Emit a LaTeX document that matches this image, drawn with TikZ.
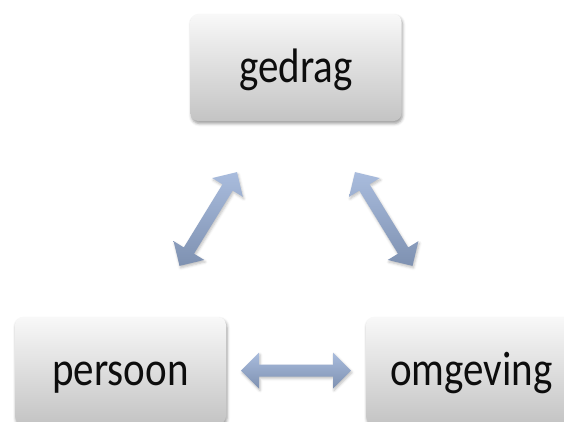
\documentclass[tikz,border=0pt]{standalone}
\usepackage{fontspec}
\setmainfont{Carlito}
\usetikzlibrary{calc,shadows.blur}

\definecolor{boxtop}{HTML}{F8F8F8}
\definecolor{boxbottom}{HTML}{C4C4C4}
\definecolor{arrowtop}{HTML}{A9BCDD}
\definecolor{arrowbottom}{HTML}{7E91B1}
\definecolor{labeltext}{HTML}{0D0D0D}

\tikzset{
  stage/.style={rectangle, rounded corners=8pt,
    minimum width=211pt, minimum height=107pt, inner sep=0pt,
    top color=boxtop, bottom color=boxbottom,
    text=labeltext, text height=30pt, text depth=0pt,
    font=\fontsize{41}{49}\selectfont,
    blur shadow={shadow xshift=1pt, shadow yshift=-2.5pt,
      shadow blur radius=3pt, shadow opacity=40}},
  blockarrow/.style={top color=arrowtop, bottom color=arrowbottom,
    blur shadow={shadow xshift=1pt, shadow yshift=-2pt,
      shadow blur radius=2.5pt, shadow opacity=25}},
}

% text slightly taller than wide
\newcommand\tall[1]{\scalebox{1}[1.18]{#1}}

% double-headed block arrow: #1 centre, #2 direction angle
\newcommand\dblblock[2]{%
  \path[blockarrow]
    ($(#1)+(#2:55)$)
    -- ($(#1)+(#2:37)+(#2+90:18)$)
    -- ($(#1)+(#2:37)+(#2+90:6)$)
    -- ($(#1)+(#2+180:37)+(#2+90:6)$)
    -- ($(#1)+(#2+180:37)+(#2+90:18)$)
    -- ($(#1)+(#2+180:55)$)
    -- ($(#1)+(#2+180:37)+(#2-90:18)$)
    -- ($(#1)+(#2+180:37)+(#2-90:6)$)
    -- ($(#1)+(#2:37)+(#2-90:6)$)
    -- ($(#1)+(#2:37)+(#2-90:18)$)
    -- cycle;}

\begin{document}
\begin{tikzpicture}[x=1pt, y=-1pt]
  \useasboundingbox (0,0) rectangle (564,421);
  \clip (0,0) rectangle (564,421);

  \node[stage] (gedrag)   at (296,67.5)  {\tall{gedrag}};
  \node[stage] (persoon)  at (120.5,370.5) {\tall{persoon}};
  \node[stage] (omgeving) at (471.5,370.5) {\tall{omgeving}};

  \coordinate (pg) at ($(persoon.north east)!0.5!(gedrag.south west)$);
  \coordinate (go) at ($(omgeving.north west)!0.5!(gedrag.south east)$);
  \coordinate (po) at ($(persoon.east)!0.5!(omgeving.west)$);

  \dblblock{pg}{-58.5}
  \dblblock{go}{58.5}
  \dblblock{po}{0}
\end{tikzpicture}
\end{document}
